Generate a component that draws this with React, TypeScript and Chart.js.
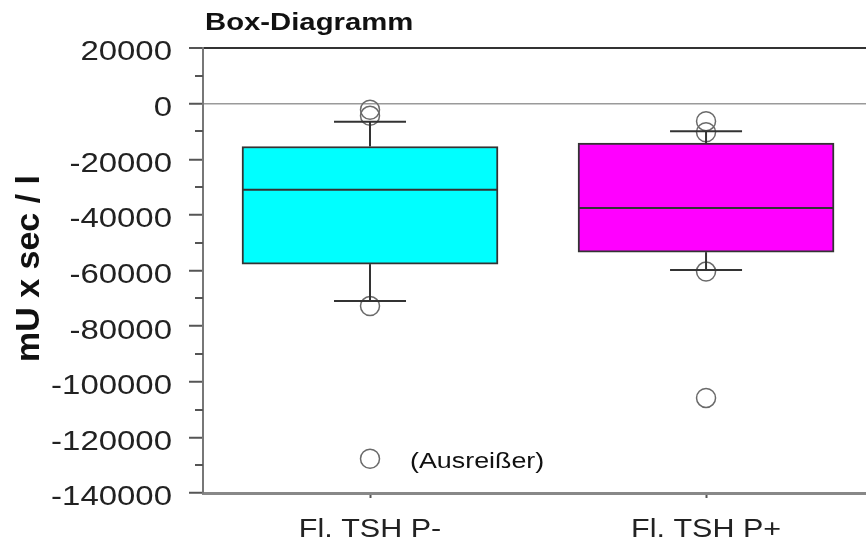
import React, { useEffect, useRef } from 'react';
import { Chart, registerables } from 'chart.js';

Chart.register(...registerables);

// ---- data ----
const CATEGORIES = ['Fl. TSH P-', 'Fl. TSH P+'];
const LOWER_WHISKER = [-71000, -59800];
const Q1 = [-57700, -53400];
const MEDIAN = [-31000, -37500];
const Q3 = [-15400, -14200];
const UPPER_WHISKER = [-6500, -9900];
const OUTLIERS_P_MINUS = [-2200, -4400, -72800, -127700];
const OUTLIERS_P_PLUS = [-6300, -10300, -60400, -105800];
const BOX_COLORS = ['#00FFFF', '#FF00FF'];

const Y_MIN = -140000;
const Y_MAX = 20000;
const Y_STEP = 10000;
const Y_LABEL_STEP = 20000;
const X_MIN = 0.503;
const X_MAX = 2.476;

const TITLE = 'Box-Diagramm';
const Y_TITLE = 'mU x sec / l';
const NOTE = '(Ausreißer)';
const NOTE_CATEGORY = 0;
const NOTE_VALUE = OUTLIERS_P_MINUS[3];

const FONT = "Arial, 'Liberation Sans', sans-serif";
const TEXT_STRETCH = 1.22;

function patchCtx(ctx: any) {
  if (ctx.__origFillText) return;
  const orig = ctx.fillText.bind(ctx);
  ctx.__origFillText = orig;
  ctx.fillText = (text: string, x: number, y: number, maxWidth?: number) => {
    ctx.save();
    ctx.translate(x, y);
    ctx.scale(TEXT_STRETCH, 1);
    if (maxWidth !== undefined) orig(text, 0, 0, maxWidth / TEXT_STRETCH);
    else orig(text, 0, 0);
    ctx.restore();
  };
}

const extrasPlugin = {
  id: 'boxExtras',
  beforeDraw(chart: any) {
    patchCtx(chart.ctx);
  },
  afterDatasetsDraw(chart: any) {
    const { ctx, scales } = chart;
    const x = scales.x;
    const y = scales.y;
    const meta = chart.getDatasetMeta(0);
    ctx.save();
    ctx.strokeStyle = '#333';
    ctx.lineWidth = 2;
    const line = (x1: number, y1: number, x2: number, y2: number) => {
      ctx.beginPath();
      ctx.moveTo(x1, y1);
      ctx.lineTo(x2, y2);
      ctx.stroke();
    };
    CATEGORIES.forEach((_, i) => {
      const cx = x.getPixelForValue(i + 1);
      const bar = meta.data[i];
      const half = bar ? bar.width / 2 : 128;
      const capHalf = 36;
      const yQ1 = y.getPixelForValue(Q1[i]);
      const yQ3 = y.getPixelForValue(Q3[i]);
      const yLo = y.getPixelForValue(LOWER_WHISKER[i]);
      const yHi = y.getPixelForValue(UPPER_WHISKER[i]);
      const yMed = y.getPixelForValue(MEDIAN[i]);
      line(cx, yQ3, cx, yHi);
      line(cx, yQ1, cx, yLo);
      line(cx - capHalf, yHi, cx + capHalf, yHi);
      line(cx - capHalf, yLo, cx + capHalf, yLo);
      line(cx - half + 1, yMed, cx + half - 1, yMed);
    });
    ctx.restore();
  },
  afterDraw(chart: any) {
    const { ctx, scales, chartArea } = chart;
    const x = scales.x;
    const y = scales.y;
    ctx.save();
    // minor ticks on y axis
    ctx.strokeStyle = '#555';
    ctx.lineWidth = 2;
    y.ticks.forEach((t: any) => {
      if (t.value % Y_LABEL_STEP !== 0) {
        const py = Math.round(y.getPixelForValue(t.value));
        ctx.beginPath();
        ctx.moveTo(chartArea.left - 8, py);
        ctx.lineTo(chartArea.left, py);
        ctx.stroke();
      }
    });
    // chart title
    ctx.fillStyle = '#111';
    ctx.font = `bold 24px ${FONT}`;
    ctx.textAlign = 'left';
    ctx.textBaseline = 'alphabetic';
    ctx.fillText(TITLE, chartArea.left + 2, 30);
    // annotation
    ctx.font = `22px ${FONT}`;
    ctx.textBaseline = 'middle';
    ctx.fillText(NOTE, x.getPixelForValue(NOTE_CATEGORY + 1) + 40, y.getPixelForValue(NOTE_VALUE) + 3);
    // y-axis title (not stretched)
    ctx.font = `bold 34px ${FONT}`;
    ctx.textAlign = 'center';
    ctx.textBaseline = 'alphabetic';
    ctx.translate(39, (chartArea.top + chartArea.bottom) / 2 - 2);
    ctx.rotate(-Math.PI / 2);
    const raw = ctx.__origFillText || ctx.fillText.bind(ctx);
    raw(Y_TITLE, 0, 0);
    ctx.restore();
  },
};

export default function App() {
  const ref = useRef<HTMLCanvasElement | null>(null);
  useEffect(() => {
    if (!ref.current) return;
    Chart.defaults.font.family = FONT;
    const chart = new Chart(ref.current, {
      type: 'bar',
      data: {
        datasets: [
          {
            type: 'bar',
            data: CATEGORIES.map((_, i) => ({ x: i + 1, y: [Q1[i], Q3[i]] })) as any,
            backgroundColor: BOX_COLORS,
            borderColor: '#333',
            borderWidth: 2,
            borderSkipped: false,
            barThickness: 256,
            order: 2,
          } as any,
          {
            type: 'scatter',
            data: [
              ...OUTLIERS_P_MINUS.map((v) => ({ x: 1, y: v })),
              ...OUTLIERS_P_PLUS.map((v) => ({ x: 2, y: v })),
            ],
            pointStyle: 'circle',
            radius: 9.5,
            borderColor: '#6a6a6a',
            borderWidth: 1.5,
            backgroundColor: 'rgba(0,0,0,0)',
            order: 1,
          } as any,
        ],
      },
      options: {
        animation: false,
        responsive: true,
        maintainAspectRatio: false,
        events: [],
        layout: { autoPadding: false, padding: { top: 48, left: 0, right: 0, bottom: 0 } },
        plugins: {
          legend: { display: false },
          title: { display: false },
          tooltip: { enabled: false },
        },
        scales: {
          x: {
            type: 'linear',
            min: X_MIN,
            max: X_MAX,
            offset: false,
            afterBuildTicks: (scale: any) => {
              scale.ticks = CATEGORIES.map((_, i) => ({ value: i + 1 }));
            },
            afterFit: (scale: any) => {
              scale.height = 52;
            },
            ticks: {
              autoSkip: false,
              maxRotation: 0,
              padding: 17,
              color: '#222',
              font: { size: 25 },
              callback: (v: any) => CATEGORIES[Number(v) - 1] ?? '',
            },
            grid: {
              offset: false,
              drawOnChartArea: false,
              tickLength: 5,
              tickColor: '#555',
              tickWidth: 2,
            },
            border: { color: '#888', width: 3 },
          },
          y: {
            type: 'linear',
            min: Y_MIN,
            max: Y_MAX,
            afterFit: (scale: any) => {
              scale.width = 203;
            },
            ticks: {
              stepSize: Y_STEP,
              autoSkip: false,
              padding: 17,
              labelOffset: 5,
              color: '#222',
              font: { size: 27 },
              callback: (v: any) => (Number(v) % Y_LABEL_STEP === 0 ? String(v) : ''),
            },
            grid: {
              tickLength: 14,
              tickWidth: 2,
              color: (c: any) =>
                c.tick && c.tick.value === 0 ? '#9a9a9a' : c.tick && c.tick.value === Y_MAX ? '#333' : 'rgba(0,0,0,0)',
              lineWidth: (c: any) => (c.tick && c.tick.value === Y_MAX ? 2 : 1.5),
              tickColor: (c: any) =>
                c.tick && c.tick.value % Y_LABEL_STEP === 0 ? '#555' : 'rgba(0,0,0,0)',
            },
            border: { color: '#777', width: 2 },
          },
        },
      },
      plugins: [extrasPlugin],
    });
    return () => chart.destroy();
  }, []);
  return (
    <div style={{ position: 'absolute', left: 0, top: 0, width: 866, height: 545, background: '#fff' }}>
      <canvas ref={ref} />
    </div>
  );
}
